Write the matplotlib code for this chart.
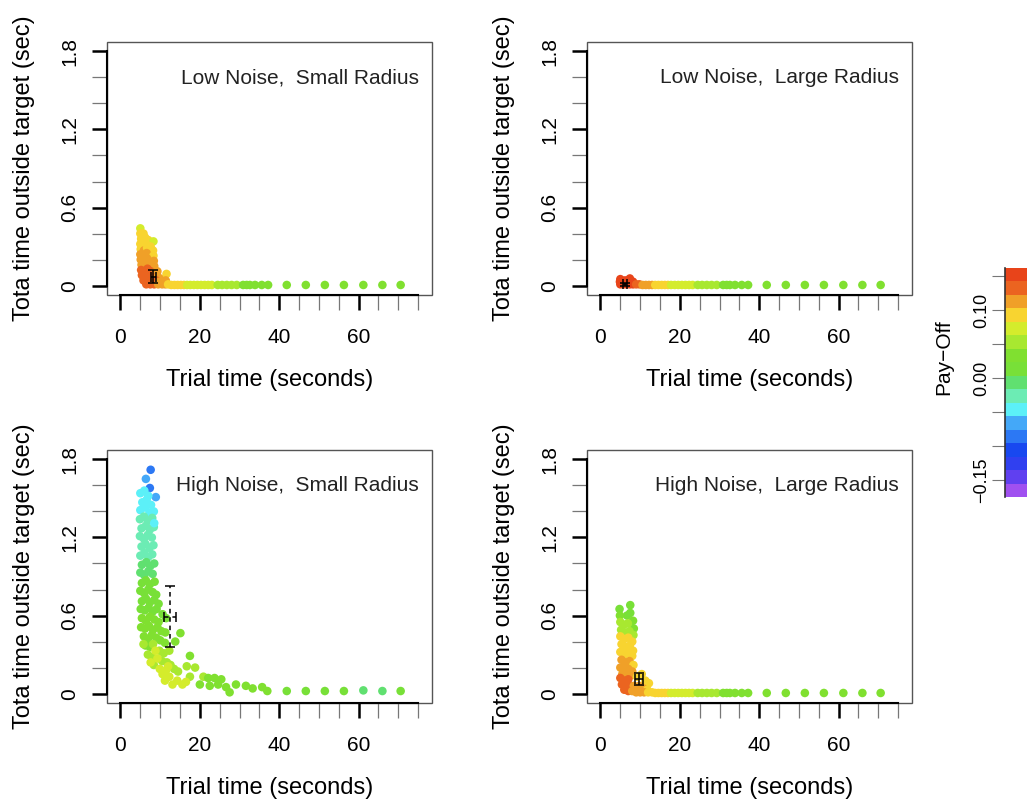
import numpy as np
import matplotlib
matplotlib.use('Agg')
import matplotlib.pyplot as plt
from matplotlib.colors import ListedColormap, BoundaryNorm
from matplotlib.cm import ScalarMappable
from matplotlib.patches import Rectangle

plt.rcParams['font.family'] = ['Liberation Sans', 'DejaVu Sans']

# ---------------- data ----------------
panel_titles = ["Low Noise,  Small Radius", "Low Noise,  Large Radius",
                "High Noise,  Small Radius", "High Noise,  Large Radius"]
x_major = [0, 20, 40, 60]
x_minor = [5, 10, 15, 25, 30, 35, 45, 50, 55, 65, 70, 75]
y_major = [0, 0.6, 1.2, 1.8]
y_minor = [0.2, 0.4, 0.8, 1.0, 1.4, 1.6]
y_major_labels = ["0", "0.6", "1.2", "1.8"]
cbar_ticks = [0.15, 0.10, 0.05, 0.0, -0.05, -0.10, -0.15]
cbar_labels = ["", "0.10", "", "0.00", "", "", "\u22120.15"]
pay_colors = ['#A050F0', '#6040F0', '#3040F0', '#1848F0', '#2C78F4', '#44A8F8',
              '#5CF0F8', '#6CECB4', '#60E070', '#78E038', '#80E030', '#A8E830',
              '#D4EC2C', '#F8D430', '#F0A028', '#EB6420', '#E8441A']
pay_min, pay_max = -0.175, 0.162

tail_time = [41.9, 46.7, 51.5, 56.3, 61.2, 66.0, 70.6]

# Low noise, small radius
lnsr_time = [5.0, 5.0, 5.8, 5.2, 6.2, 7.0, 8.3, 5.0, 5.9, 6.8, 7.6,
             5.1, 5.9, 6.7, 7.5, 8.2, 5.0, 5.8, 6.6, 7.4, 8.3,
             5.1, 5.9, 6.7, 7.5, 8.4, 5.3, 6.1, 6.9, 7.7, 8.5,
             5.2, 6.0, 6.8, 7.6, 8.6, 9.3, 5.4, 6.2, 7.0, 7.8, 8.6, 9.4, 10.3, 11.6,
             5.8, 6.6, 7.4, 8.2, 9.0, 9.8, 10.6, 11.4,
             6.5, 7.5, 8.5, 9.5, 10.5, 11.3, 12.0,
             12.8, 13.6, 14.4, 15.2, 16.0, 16.8, 17.6, 18.5, 19.4, 20.3, 21.2, 22.1, 23.0,
             24.5, 25.6, 26.8, 28.0, 29.3, 30.9, 31.8, 32.6, 33.9, 35.6, 37.2] + tail_time
lnsr_out = [0.44, 0.40, 0.40, 0.36, 0.37, 0.35, 0.34, 0.32, 0.33, 0.31, 0.30,
            0.28, 0.27, 0.29, 0.26, 0.27, 0.24, 0.23, 0.25, 0.22, 0.23,
            0.20, 0.19, 0.21, 0.18, 0.19, 0.16, 0.15, 0.17, 0.14, 0.15,
            0.12, 0.11, 0.13, 0.11, 0.10, 0.11, 0.08, 0.07, 0.09, 0.07, 0.06, 0.07, 0.05, 0.09,
            0.04, 0.03, 0.04, 0.03, 0.04, 0.03, 0.03, 0.04,
            0.01, 0.01, 0.01, 0.01, 0.01, 0.01, 0.01,
            0.005, 0.005, 0.005, 0.005, 0.005, 0.005, 0.005, 0.005, 0.005, 0.005, 0.005, 0.005, 0.005,
            0.005, 0.005, 0.005, 0.005, 0.005, 0.005, 0.005, 0.005, 0.005, 0.005, 0.005,
            0.005, 0.005, 0.005, 0.005, 0.005, 0.005, 0.005]
lnsr_pay = [0.065, 0.09, 0.09, 0.09, 0.09, 0.09, 0.065, 0.09, 0.09, 0.09, 0.09,
            0.10, 0.11, 0.10, 0.09, 0.09, 0.11, 0.11, 0.11, 0.11, 0.10,
            0.11, 0.11, 0.11, 0.11, 0.11, 0.12, 0.115, 0.115, 0.115, 0.11,
            0.13, 0.13, 0.13, 0.13, 0.12, 0.12, 0.13, 0.13, 0.13, 0.13, 0.13, 0.12, 0.11, 0.09,
            0.13, 0.13, 0.13, 0.13, 0.13, 0.12, 0.11, 0.11,
            0.13, 0.13, 0.13, 0.12, 0.12, 0.11, 0.10,
            0.09, 0.09, 0.09, 0.09, 0.09, 0.075, 0.07, 0.07, 0.07, 0.07, 0.07, 0.07, 0.065,
            0.05, 0.05, 0.05, 0.05, 0.05, 0.04, 0.04, 0.04, 0.04, 0.04, 0.04,
            0.035, 0.035, 0.035, 0.035, 0.035, 0.035, 0.035]
lnsr_err = dict(x=8.3, y=0.07, xerr=0.6, yerr=0.048)

# Low noise, large radius
lnlr_time = [5.0, 7.4, 6.2, 4.9, 5.8, 6.6, 7.4, 8.2, 5.0, 5.8, 6.6, 7.4, 8.2, 9.0, 9.8,
             10.6, 11.4, 12.2, 13.0, 13.8, 14.6, 15.4, 16.2, 17.0, 17.8, 18.7, 19.6,
             20.5, 21.4, 22.3, 23.2, 24.5, 25.6, 26.8, 28.0, 29.3, 30.9, 31.8, 32.6,
             33.9, 35.6, 37.2] + tail_time
lnlr_out = [0.05, 0.055, 0.04, 0.03, 0.03, 0.03, 0.03, 0.03, 0.01, 0.01, 0.01, 0.01, 0.01, 0.01, 0.01,
            0.005, 0.005, 0.005, 0.005, 0.005, 0.005, 0.005, 0.005, 0.005, 0.005, 0.005, 0.005,
            0.005, 0.005, 0.005, 0.005, 0.005, 0.005, 0.005, 0.005, 0.005, 0.005, 0.005, 0.005,
            0.005, 0.005, 0.005, 0.005, 0.005, 0.005, 0.005, 0.005, 0.005, 0.005]
lnlr_pay = [0.15, 0.15, 0.15, 0.15, 0.15, 0.15, 0.15, 0.145, 0.15, 0.15, 0.15, 0.15, 0.145, 0.14, 0.13,
            0.11, 0.11, 0.11, 0.11, 0.09, 0.09, 0.09, 0.09, 0.09, 0.07, 0.07, 0.07,
            0.07, 0.07, 0.07, 0.07, 0.05, 0.05, 0.05, 0.05, 0.05, 0.04, 0.04, 0.04,
            0.04, 0.04, 0.04, 0.035, 0.035, 0.035, 0.035, 0.035, 0.035, 0.035]
lnlr_err = dict(x=6.2, y=0.01, xerr=0.5, yerr=0.012)

# High noise, small radius
hnsr_time = [7.6, 6.4, 7.4, 8.9,
             5.0, 6.0, 7.0, 5.5, 6.6, 7.7, 5.0, 6.2, 7.3, 8.4,
             4.9, 5.9, 6.9, 8.0, 5.3, 6.4, 7.4, 8.4, 4.9, 5.9, 6.9, 7.9,
             5.3, 6.3, 7.3, 8.3, 5.0, 6.0, 7.0, 8.0, 8.5,
             5.4, 6.5, 7.5, 8.5, 5.0, 6.0, 7.0, 8.1,
             5.4, 6.4, 7.4, 8.6, 5.0, 6.0, 7.0, 8.1, 9.0,
             5.4, 6.4, 7.4, 8.5, 9.6, 5.1, 6.1, 7.1, 8.1, 9.1, 10.6, 11.5,
             5.4, 6.4, 7.4, 8.5, 9.6, 5.2, 6.2, 7.2, 8.2, 9.3, 10.3,
             11.3, 15.1, 13.8, 5.9, 6.9, 7.9, 9.0, 10.0, 11.2, 6.3, 7.4,
             17.5,
             5.8, 8.2, 9.8, 10.9, 12.3, 6.9, 7.9, 10.5, 11.7, 12.6, 13.5, 8.4, 14.5,
             16.7, 18.8, 17.5, 20.9,
             22.1, 23.7, 25.4,
             8.8, 9.3, 9.9, 10.6, 11.5, 12.3, 13.1, 14.3, 15.6, 16.5, 11.2, 12.0, 7.6,
             20.0, 22.5, 24.6, 26.6, 29.1, 31.6, 33.3, 35.7, 37.0, 27.5] + tail_time
hnsr_out = [1.72, 1.65, 1.58, 1.51,
            1.54, 1.56, 1.52, 1.47, 1.49, 1.45, 1.41, 1.43, 1.39, 1.40,
            1.34, 1.36, 1.33, 1.35, 1.27, 1.29, 1.26, 1.28, 1.21, 1.19, 1.22, 1.20,
            1.13, 1.15, 1.12, 1.14, 1.06, 1.08, 1.05, 1.07, 1.31,
            0.99, 1.01, 0.98, 1.00, 0.93, 0.91, 0.94, 0.92,
            0.85, 0.87, 0.84, 0.86, 0.79, 0.77, 0.80, 0.78, 0.76,
            0.71, 0.73, 0.70, 0.72, 0.69, 0.65, 0.64, 0.66, 0.63, 0.65, 0.61, 0.58,
            0.58, 0.56, 0.59, 0.57, 0.55, 0.51, 0.50, 0.52, 0.49, 0.51, 0.48,
            0.47, 0.465, 0.40, 0.44, 0.42, 0.45, 0.43, 0.41, 0.39, 0.37, 0.36,
            0.29,
            0.38, 0.38, 0.33, 0.31, 0.33, 0.30, 0.28, 0.25, 0.24, 0.22, 0.19, 0.22, 0.17,
            0.21, 0.20, 0.13, 0.13,
            0.12, 0.12, 0.11,
            0.33, 0.27, 0.19, 0.15, 0.18, 0.13, 0.07, 0.10, 0.07, 0.09, 0.10, 0.21, 0.24,
            0.07, 0.06, 0.07, 0.05, 0.07, 0.06, 0.04, 0.05, 0.02, 0.01,
            0.02, 0.02, 0.02, 0.02, 0.025, 0.02, 0.02]
hnsr_pay = [-0.085, -0.075, -0.08, -0.065,
            -0.045, -0.045, -0.045, -0.045, -0.045, -0.045, -0.045, -0.04, -0.04, -0.04,
            -0.025, -0.025, -0.025, -0.025, -0.025, -0.025, -0.025, -0.025, -0.025, -0.025, -0.025, -0.025,
            -0.025, -0.025, -0.025, -0.025, -0.025, -0.025, -0.025, -0.025, -0.04,
            -0.005, -0.005, -0.005, -0.005, -0.005, -0.005, -0.005, -0.005,
            0.015, 0.015, 0.015, 0.015, 0.015, 0.015, 0.015, 0.015, 0.015,
            0.015, 0.015, 0.015, 0.015, 0.015, 0.015, 0.015, 0.015, 0.015, 0.015, 0.02, 0.02,
            0.03, 0.03, 0.03, 0.03, 0.03, 0.03, 0.03, 0.03, 0.03, 0.03, 0.03,
            0.03, 0.03, 0.03, 0.03, 0.03, 0.03, 0.03, 0.03, 0.03, 0.03, 0.03,
            0.035,
            0.05, 0.05, 0.05, 0.05, 0.05, 0.05, 0.05, 0.05, 0.05, 0.05, 0.05, 0.05, 0.05,
            0.05, 0.05, 0.05, 0.05,
            0.04, 0.04, 0.04,
            0.07, 0.07, 0.075, 0.075, 0.07, 0.07, 0.075, 0.07, 0.07, 0.07, 0.07, 0.07, 0.065,
            0.04, 0.035, 0.035, 0.035, 0.03, 0.03, 0.03, 0.03, 0.03, 0.03,
            0.02, 0.02, 0.02, 0.02, 0.0, 0.0, 0.01]
hnsr_err = dict(x=12.5, y=0.59, xerr=1.45, yerr=0.235)

# High noise, large radius
hnlr_time = [4.8, 7.5, 7.5, 6.7, 4.9, 8.2, 8.4,
             5.0, 5.9, 6.9, 5.2, 6.2, 7.3, 8.3,
             5.0, 6.0, 7.0, 8.0, 5.3, 6.3, 7.4, 8.2, 5.0, 6.0, 7.0,
             8.0, 5.3, 6.3, 7.3, 8.3, 5.0, 6.0, 7.0, 8.0, 5.5, 6.6, 7.7,
             5.0, 6.0, 7.0, 5.4, 6.4, 7.4, 8.4, 6.0, 7.0, 8.0,
             9.2, 10.4, 11.3, 12.2, 9.8, 10.8, 11.8, 9.0, 10.0, 11.0, 12.0, 13.0,
             13.8, 14.6, 15.4, 16.2, 17.0, 17.8, 18.7, 19.6, 20.5, 21.4, 22.3, 23.2,
             24.5, 25.6, 26.8, 28.0, 29.3, 30.9, 31.8, 32.6, 33.9, 35.6, 37.2] + tail_time
hnlr_out = [0.65, 0.68, 0.62, 0.60, 0.60, 0.56, 0.50,
            0.55, 0.53, 0.54, 0.49, 0.47, 0.48, 0.45,
            0.44, 0.42, 0.43, 0.40, 0.38, 0.36, 0.37, 0.33, 0.32, 0.30, 0.31,
            0.29, 0.26, 0.24, 0.25, 0.22, 0.20, 0.18, 0.19, 0.17, 0.15, 0.13, 0.14,
            0.12, 0.10, 0.11, 0.07, 0.05, 0.06, 0.06, 0.03, 0.02, 0.02,
            0.13, 0.15, 0.10, 0.08, 0.06, 0.04, 0.03, 0.01, 0.01, 0.01, 0.01, 0.01,
            0.005, 0.005, 0.005, 0.005, 0.005, 0.005, 0.005, 0.005, 0.005, 0.005, 0.005, 0.005,
            0.005, 0.005, 0.005, 0.005, 0.005, 0.005, 0.005, 0.005, 0.005, 0.005, 0.005,
            0.005, 0.005, 0.005, 0.005, 0.005, 0.005, 0.005]
hnlr_pay = [0.02, 0.02, 0.02, 0.02, 0.035, 0.03, 0.04,
            0.06, 0.06, 0.06, 0.06, 0.06, 0.06, 0.05,
            0.085, 0.085, 0.085, 0.085, 0.085, 0.085, 0.085, 0.085, 0.085, 0.085, 0.085,
            0.095, 0.11, 0.11, 0.11, 0.10, 0.11, 0.11, 0.11, 0.11, 0.11, 0.11, 0.11,
            0.13, 0.13, 0.13, 0.13, 0.13, 0.13, 0.12, 0.13, 0.13, 0.12,
            0.10, 0.09, 0.09, 0.09, 0.11, 0.11, 0.10, 0.12, 0.11, 0.11, 0.10, 0.10,
            0.09, 0.09, 0.09, 0.09, 0.09, 0.07, 0.07, 0.07, 0.07, 0.07, 0.07, 0.07,
            0.05, 0.05, 0.05, 0.05, 0.05, 0.04, 0.04, 0.04, 0.04, 0.04, 0.04,
            0.035, 0.035, 0.035, 0.035, 0.035, 0.035, 0.035]
hnlr_err = dict(x=9.6, y=0.11, xerr=1.0, yerr=0.045)

panels = [
    (lnsr_time, lnsr_out, lnsr_pay, lnsr_err, '-'),
    (lnlr_time, lnlr_out, lnlr_pay, lnlr_err, '-'),
    (hnsr_time, hnsr_out, hnsr_pay, hnsr_err, '--'),
    (hnlr_time, hnlr_out, hnlr_pay, hnlr_err, '-'),
]

# ---------------- layout (pixels) ----------------
W, H = 1027, 801
boxes = [(107, 42, 432, 295), (587, 42, 912, 295),
         (107, 450, 432, 703), (587, 450, 912, 703)]

fig = plt.figure(figsize=(W / 100, H / 100), dpi=100)
fig.patch.set_facecolor('white')

def px_axes(l, t, r, b):
    return fig.add_axes([l / W, 1 - b / H, (r - l) / W, (b - t) / H])

cmap = ListedColormap(pay_colors)
norm = BoundaryNorm(np.linspace(pay_min, pay_max, len(pay_colors) + 1), len(pay_colors))

for (tx, oy, pay, err, els), title, (l, t, r, b) in zip(panels, panel_titles, boxes):
    n = min(len(tx), len(oy), len(pay))
    ax = px_axes(l, t, r, b)
    ax.scatter(tx[:n], oy[:n], c=pay[:n], cmap=cmap, norm=norm, s=38,
               linewidths=0, zorder=2)
    eb = ax.errorbar(err['x'], err['y'], xerr=err['xerr'], yerr=err['yerr'],
                     fmt='none', ecolor='black', elinewidth=1.1, capsize=3.5,
                     capthick=1.1, zorder=3)
    if els != '-':
        for lc in eb[2]:
            lc.set_linestyle((0, (3, 2.5)))
    ax.set_xlim(-3.4, 78.5)
    ax.set_ylim(-0.072, 1.872)
    ax.set_xticks(x_major)
    ax.set_xticks(x_minor, minor=True)
    ax.set_yticks(y_major)
    ax.set_yticks(y_minor, minor=True)
    ax.set_yticklabels(y_major_labels)
    ax.tick_params(which='major', length=11, width=1.8, color='black',
                   labelsize=15, direction='out')
    ax.tick_params(which='minor', length=11, width=0.9, color='#777777', direction='out')
    ax.tick_params(axis='x', which='major', pad=13)
    ax.tick_params(axis='y', which='major', pad=9, labelrotation=90)
    for lbl in ax.get_yticklabels():
        lbl.set_va('center')
    for s in ['top', 'right']:
        ax.spines[s].set_visible(False)
    ax.spines['left'].set_bounds(0, 1.8)
    ax.spines['bottom'].set_bounds(0, 75)
    ax.spines['left'].set_linewidth(1.5)
    ax.spines['bottom'].set_linewidth(1.5)
    ax.add_patch(Rectangle((0, 0), 1, 1, transform=ax.transAxes, fill=False,
                           edgecolor='#555555', linewidth=1.0, clip_on=False, zorder=1))
    ax.text(0.96, 0.837, title, transform=ax.transAxes, ha='right', va='baseline',
            fontsize=15, color='#222222')
    fig.text(((l + r) / 2) / W, 1 - (b + 85) / H, "Trial time (seconds)",
             ha='center', va='center', fontsize=17)
    fig.text((l - 83) / W, 1 - ((t + b) / 2) / H, "Tota time outside target (sec)",
             ha='center', va='center', rotation=90, fontsize=17)

# ---------------- colour bar ----------------
cax = px_axes(1005, 268, 1045, 497)
cb = fig.colorbar(ScalarMappable(norm=norm, cmap=cmap), cax=cax, orientation='vertical')
cb.outline.set_visible(False)
cax.yaxis.set_ticks_position('left')
cb.set_ticks(cbar_ticks)
cb.set_ticklabels(cbar_labels)
cax.tick_params(axis='y', length=9.5, width=0.8, color='#777777', labelsize=13,
                pad=1, labelrotation=90)
for lbl in cax.get_yticklabels():
    lbl.set_va('center')
cax.plot([0, 0], [0, 1], transform=cax.transAxes, color='#333333', lw=1.2, clip_on=False)
cax.minorticks_off()
fig.text(944 / W, 1 - 357 / H, "Pay\u2212Off", ha='center', va='center',
         rotation=90, fontsize=15)

fig.savefig('out.png', dpi=100)
